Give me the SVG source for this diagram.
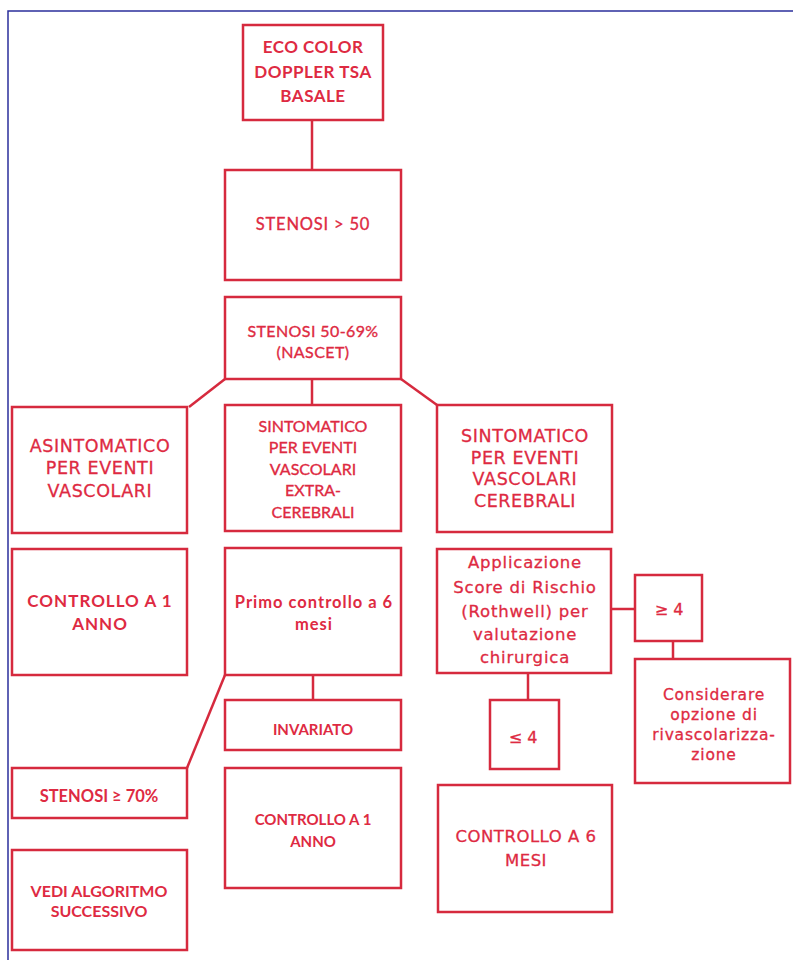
<svg xmlns="http://www.w3.org/2000/svg" width="793" height="960" viewBox="0 0 793 960">
  <style>
    .box { fill: #ffffff; stroke: #d62a3e; stroke-width: 2.5; }
    .link { fill: none; stroke: #d62a3e; stroke-width: 2.5; }
    text { fill: #de2a42; text-anchor: middle; }
    .cb { font-family: Lato, "Open Sans", sans-serif; font-weight: 700; }
    .cr { font-family: Lato, "Open Sans", sans-serif; font-weight: 400; stroke: #de2a42; stroke-width: 0.35; }
    .ver { font-family: "DejaVu Sans", Verdana, sans-serif; stroke: #de2a42; stroke-width: 0.3; }
  </style>
  <rect x="0" y="0" width="793" height="960" fill="#ffffff"/>
  <!-- page frame -->
  <path d="M8 960 V11 H793" fill="none" stroke="#2b2f9c" stroke-width="1.5"/>

  <g id="connectors">
    <line class="link" x1="312" y1="120" x2="312" y2="170"/>
    <line class="link" x1="225" y1="379" x2="189" y2="407"/>
    <line class="link" x1="312" y1="379" x2="312" y2="405"/>
    <line class="link" x1="401" y1="379" x2="437" y2="405"/>
    <line class="link" x1="611" y1="609" x2="635" y2="609"/>
    <line class="link" x1="673" y1="641" x2="673" y2="659"/>
    <line class="link" x1="528" y1="673" x2="528" y2="700"/>
    <line class="link" x1="225" y1="675" x2="187" y2="768"/>
    <line class="link" x1="313" y1="675" x2="313" y2="700"/>
  </g>

  <g id="eco-color-doppler">
    <rect class="box" x="243" y="25" width="140" height="95"/>
    <text class="cb" font-size="17" letter-spacing="0.5"><tspan x="313" y="53">ECO COLOR</tspan><tspan x="313" y="78">DOPPLER TSA</tspan><tspan x="313" y="102">BASALE</tspan></text>
  </g>

  <g id="stenosi-50">
    <rect class="box" x="225" y="170" width="176" height="110"/>
    <text class="cr" font-size="16.5" letter-spacing="0.8"><tspan x="313" y="230">STENOSI &gt; 50</tspan></text>
  </g>

  <g id="stenosi-50-69">
    <rect class="box" x="225" y="297" width="176" height="82"/>
    <text class="cr" font-size="16" letter-spacing="0.4"><tspan x="313" y="337">STENOSI 50-69%</tspan><tspan x="313" y="358">(NASCET)</tspan></text>
  </g>

  <g id="asintomatico">
    <rect class="box" x="12" y="407" width="175" height="126"/>
    <text class="ver" font-size="17.5" letter-spacing="0.6"><tspan x="100" y="452">ASINTOMATICO</tspan><tspan x="100" y="474">PER EVENTI</tspan><tspan x="100" y="497">VASCOLARI</tspan></text>
  </g>

  <g id="sintomatico-extra">
    <rect class="box" x="225" y="405" width="176" height="126"/>
    <text class="cr" font-size="16"><tspan x="313" y="432">SINTOMATICO</tspan><tspan x="313" y="453">PER EVENTI</tspan><tspan x="313" y="475">VASCOLARI</tspan><tspan x="313" y="496">EXTRA-</tspan><tspan x="313" y="518">CEREBRALI</tspan></text>
  </g>

  <g id="sintomatico-cerebrali">
    <rect class="box" x="437" y="405" width="175" height="127"/>
    <text class="ver" font-size="17.5" letter-spacing="0.6"><tspan x="525" y="442">SINTOMATICO</tspan><tspan x="525" y="464">PER EVENTI</tspan><tspan x="525" y="485">VASCOLARI</tspan><tspan x="525" y="507">CEREBRALI</tspan></text>
  </g>

  <g id="controllo-1-anno-a">
    <rect class="box" x="12" y="549" width="175" height="126"/>
    <text class="cb" font-size="17" letter-spacing="1"><tspan x="100" y="607">CONTROLLO A 1</tspan><tspan x="100" y="630">ANNO</tspan></text>
  </g>

  <g id="primo-controllo">
    <rect class="box" x="225" y="548" width="176" height="127"/>
    <text class="cb" font-size="16.5" letter-spacing="1"><tspan x="314" y="608">Primo controllo a 6</tspan><tspan x="314" y="630">mesi</tspan></text>
  </g>

  <g id="applicazione-score">
    <rect class="box" x="437" y="549" width="174" height="124"/>
    <text class="ver" font-size="16.5" letter-spacing="0.8"><tspan x="525" y="568">Applicazione</tspan><tspan x="525" y="593">Score di Rischio</tspan><tspan x="525" y="617">(Rothwell) per</tspan><tspan x="525" y="640">valutazione</tspan><tspan x="525" y="663">chirurgica</tspan></text>
  </g>

  <g id="score-ge-4">
    <rect class="box" x="635" y="575" width="67" height="66"/>
    <text class="ver" font-size="16"><tspan x="669" y="615">≥ 4</tspan></text>
  </g>

  <g id="considerare">
    <rect class="box" x="635" y="659" width="155" height="124"/>
    <text class="ver" font-size="15.5" letter-spacing="0.8"><tspan x="714" y="700">Considerare</tspan><tspan x="714" y="720">opzione di</tspan><tspan x="714" y="740">rivascolarizza-</tspan><tspan x="714" y="760">zione</tspan></text>
  </g>

  <g id="score-le-4">
    <rect class="box" x="490" y="700" width="69" height="69"/>
    <text class="ver" font-size="16"><tspan x="523" y="743">≤ 4</tspan></text>
  </g>

  <g id="invariato">
    <rect class="box" x="225" y="700" width="176" height="50"/>
    <text class="cb" font-size="15"><tspan x="313" y="735">INVARIATO</tspan></text>
  </g>

  <g id="stenosi-70">
    <rect class="box" x="12" y="768" width="175" height="50"/>
    <text class="cb" font-size="16.5"><tspan x="99" y="802">STENOSI ≥ 70%</tspan></text>
  </g>

  <g id="controllo-1-anno-b">
    <rect class="box" x="225" y="768" width="176" height="120"/>
    <text class="cb" font-size="15"><tspan x="313" y="825">CONTROLLO A 1</tspan><tspan x="313" y="847">ANNO</tspan></text>
  </g>

  <g id="controllo-6-mesi">
    <rect class="box" x="438" y="785" width="174" height="127"/>
    <text class="ver" font-size="16.5" letter-spacing="0.5"><tspan x="526" y="842">CONTROLLO A 6</tspan><tspan x="526" y="866">MESI</tspan></text>
  </g>

  <g id="vedi-algoritmo">
    <rect class="box" x="12" y="850" width="175" height="100"/>
    <text class="cb" font-size="16"><tspan x="99" y="897">VEDI ALGORITMO</tspan><tspan x="99" y="917">SUCCESSIVO</tspan></text>
  </g>
</svg>
